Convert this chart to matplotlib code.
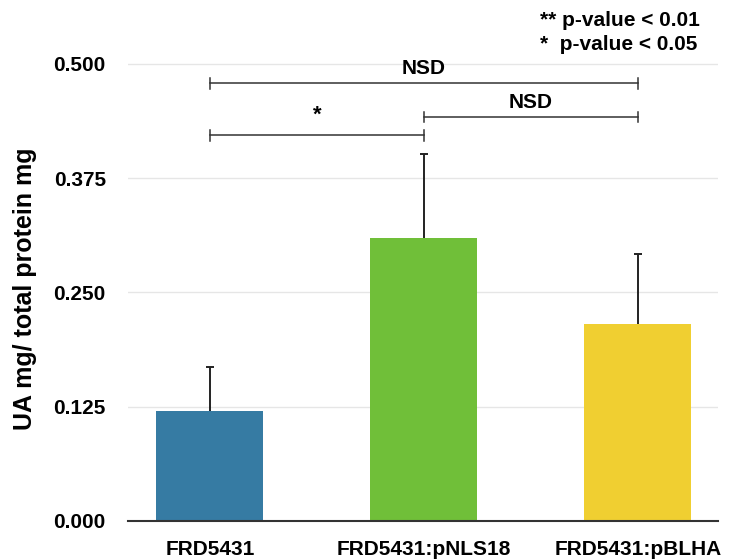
import matplotlib
matplotlib.use("Agg")
import matplotlib.pyplot as plt
import numpy as np

# data
strains = ["FRD5431", "FRD5431:pNLS18", "FRD5431:pBLHA"]
means = [0.120, 0.310, 0.216]
err_up = [0.049, 0.091, 0.076]
colors = ["#367BA3", "#70BF39", "#F0CF31"]
yticks = [0.0, 0.125, 0.25, 0.375, 0.5]

# significance brackets: (left bar, right bar, height, label)
brackets = [(0, 2, 0.479, "NSD"), (0, 1, 0.422, "*"), (1, 2, 0.442, "NSD")]

plt.rcParams["font.family"] = ["Liberation Sans", "DejaVu Sans"]
plt.rcParams["font.weight"] = "bold"

fig = plt.figure(figsize=(7.31, 5.59), dpi=100)
ax = fig.add_axes([128 / 731, 38 / 559, 590 / 731, 521 / 559])

x = np.arange(len(strains))
ax.bar(x, means, width=0.5, color=colors, zorder=2)
eb = ax.errorbar(x, means, yerr=[np.zeros(len(means)), err_up], fmt="none",
                 ecolor="#222222", elinewidth=1.4, capsize=3.0, capthick=1.4, zorder=3)
# only keep the upper caps
for cap in eb[1]:
    if np.allclose(cap.get_ydata(), means):
        cap.set_visible(False)

ax.set_xlim(-0.383, 2.374)
ax.set_ylim(0, 0.570)
ax.set_yticks(yticks)
ax.set_yticklabels(["%.3f" % t for t in yticks], fontsize=15, fontweight="bold")
ax.set_xticks(x)
ax.set_xticklabels(strains, fontsize=15, fontweight="bold")
ax.tick_params(length=0)
ax.tick_params(axis="y", pad=16)
ax.tick_params(axis="x", pad=14)
ax.grid(axis="y", color="#e6e6e6", linewidth=1, zorder=0)
for s in ["top", "right", "left"]:
    ax.spines[s].set_visible(False)
ax.spines["bottom"].set_color("#333333")
ax.spines["bottom"].set_linewidth(1.5)
ax.spines["bottom"].set_zorder(4)

ax.set_ylabel("UA mg/ total protein mg", fontsize=18, fontweight="bold")
ax.yaxis.set_label_coords(-0.155, 0.446)

for a, b, h, lab in brackets:
    ax.plot([a, b], [h, h], color="#333333", lw=1.1)
    ax.plot([a, a], [h - 0.006, h + 0.006], color="#333333", lw=1.1)
    ax.plot([b, b], [h - 0.006, h + 0.006], color="#333333", lw=1.1)
    if lab == "*":
        ax.text((a + b) / 2, h + 0.010, lab, ha="center", va="bottom", fontsize=16, fontweight="bold")
    else:
        ax.text((a + b) / 2, h + 0.006, lab, ha="center", va="bottom", fontsize=15, fontweight="bold")

fig.text(540 / 731, 1 - 20 / 559, "** p-value < 0.01", ha="left", va="center", fontsize=15, fontweight="bold")
fig.text(540 / 731, 1 - 45 / 559, "*  p-value < 0.05", ha="left", va="center", fontsize=15, fontweight="bold")

fig.savefig("out.png", dpi=100)
